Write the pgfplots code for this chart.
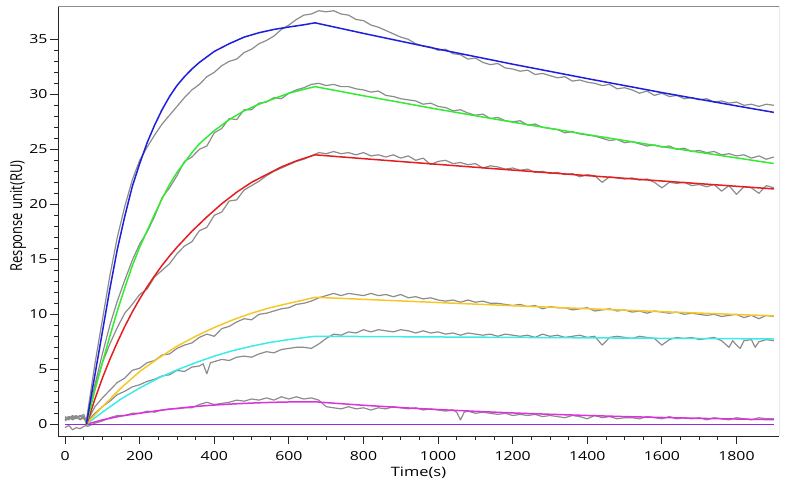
\documentclass[border=0pt]{standalone}
\usepackage{fontspec}
\setmainfont{Open Sans}[FakeStretch=1.27]
\newfontfamily\ylabfont{Open Sans}
\usepackage{graphicx}
\usepackage{pgfplots}
\pgfplotsset{compat=1.18}
\definecolor{dgray}{RGB}{140,140,140}
\definecolor{fblue}{RGB}{30,30,220}
\definecolor{fgreen}{RGB}{50,235,50}
\definecolor{fred}{RGB}{228,30,30}
\definecolor{fyellow}{RGB}{245,200,40}
\definecolor{fcyan}{RGB}{60,235,235}
\definecolor{fmagenta}{RGB}{220,50,220}
\definecolor{fpurple}{RGB}{150,40,230}
\begin{document}
\begin{tikzpicture}
\useasboundingbox (0,0) rectangle (789bp,488bp);
\begin{axis}[
  at={(58bp,52bp)}, anchor=south west,
  scale only axis, width=721bp, height=430bp,
  xmin=-19, xmax=1914, ymin=-1.064, ymax=38.03,
  axis x line*=bottom, axis y line*=left,
  axis line style={black!85, line width=0.9bp},
  tick align=outside,
  major tick length=8bp, minor tick length=4bp,
  every tick/.style={black!85, line width=0.8bp},
  xtick={0,200,...,1800}, ytick={0,5,...,35},
  minor x tick num=3, minor y tick num=4,
  /pgf/number format/assume math mode=true,
  /pgf/number format/set thousands separator={},
  ticklabel style={font=\fontsize{12.5}{14}\selectfont},
  xticklabel style={yshift=-4bp},
  yticklabel style={xshift=1bp},
  xlabel={Time(s)},
  xlabel style={at={(axis description cs:0.5,0)}, anchor=center, yshift=-37bp, font=\fontsize{13}{15}\selectfont},
  ylabel={\scalebox{1}[1.27]{\ylabfont\fontsize{13}{15}\selectfont Response unit(RU)}},
  ylabel style={at={(axis description cs:-0.0555,0.5116)}, anchor=center},
  line join=round,
]
% ---------- measured sensorgrams (gray) ----------
\addplot[dgray, line width=1.2bp] coordinates {
(0,0.5)(10,0.7)(20,0.4)(30,0.6)(40,0.8)(50,0.5)(57,0.3)(60,1.0)(80,5.5)(100,9.5)(120,13.5)(140,17.0)(160,19.8)(180,22.2)(200,24.0)(220,25.2)(240,26.3)(260,27.3)(280,28.1)(300,28.9)(320,29.7)(340,30.4)(360,30.9)(380,31.6)(400,32.0)(420,32.6)(440,33.0)(460,33.2)(480,33.8)(500,34.1)(520,34.6)(540,34.9)(560,35.3)(580,35.9)(600,36.3)(620,36.8)(640,37.2)(660,37.3)(680,37.6)(700,37.5)(720,37.6)(740,37.3)(760,37.2)(780,36.8)(800,36.7)(820,36.3)(840,36.1)(860,35.8)(880,35.5)(900,35.2)(920,35.0)(940,34.6)(960,34.4)(980,34.3)(1000,34.0)(1020,34.1)(1040,33.7)(1060,33.6)(1080,33.2)(1100,33.3)(1120,32.9)(1140,32.7)(1160,32.8)(1180,32.4)(1200,32.3)(1220,32.1)(1240,32.2)(1260,31.8)(1280,31.9)(1300,31.7)(1320,31.5)(1340,31.6)(1360,31.2)(1380,31.3)(1400,31.1)(1420,31.0)(1440,30.8)(1460,30.9)(1480,30.5)(1500,30.6)(1520,30.4)(1540,30.1)(1560,30.3)(1580,29.9)(1600,30.1)(1620,29.8)(1640,29.9)(1660,29.6)(1680,29.7)(1700,29.5)(1720,29.6)(1740,29.3)(1760,29.4)(1780,29.2)(1800,29.3)(1820,29.0)(1840,29.1)(1860,28.9)(1880,29.1)(1900,29.0)
};
\addplot[dgray, line width=1.2bp] coordinates {
(0,0.3)(10,0.6)(20,0.5)(30,0.7)(40,0.4)(50,0.6)(57,0.2)(60,0.6)(80,3.6)(100,6.4)(120,9.0)(140,11.2)(160,13.1)(180,14.9)(200,16.4)(220,17.5)(240,18.9)(260,20.6)(280,21.5)(300,22.6)(320,23.9)(340,24.3)(360,25.0)(380,25.3)(400,26.5)(420,26.9)(440,27.8)(460,27.7)(480,28.6)(500,28.6)(520,29.2)(540,29.3)(560,29.7)(580,29.6)(600,30.1)(620,30.4)(640,30.6)(660,30.9)(680,31.0)(700,30.8)(720,30.9)(740,30.7)(760,30.7)(780,30.5)(800,30.4)(820,30.2)(840,30.3)(860,29.9)(880,29.8)(900,29.6)(920,29.5)(940,29.4)(960,29.1)(980,29.2)(1000,28.9)(1020,28.8)(1040,28.5)(1060,28.6)(1080,28.3)(1100,28.1)(1120,28.2)(1140,27.8)(1160,27.9)(1180,27.6)(1200,27.5)(1220,27.6)(1240,27.2)(1260,27.3)(1280,27.0)(1300,26.9)(1320,26.8)(1340,26.5)(1360,26.6)(1380,26.4)(1400,26.3)(1420,26.2)(1440,26.0)(1460,25.8)(1480,25.9)(1500,25.6)(1520,25.7)(1540,25.5)(1560,25.3)(1580,25.4)(1600,25.2)(1620,25.3)(1640,25.0)(1660,25.1)(1680,24.8)(1700,24.9)(1720,24.7)(1740,24.8)(1760,24.5)(1780,24.6)(1800,24.4)(1820,24.5)(1840,24.2)(1860,24.4)(1880,24.1)(1900,24.3)
};
\addplot[dgray, line width=1.2bp] coordinates {
(0,0.7)(10,0.5)(20,0.8)(30,0.6)(40,0.7)(50,0.9)(57,0.3)(60,0.5)(80,3.4)(100,5.6)(120,7.3)(140,8.8)(160,10.1)(180,10.9)(200,11.8)(220,12.3)(240,13.4)(260,14.0)(280,14.6)(300,15.5)(320,16.2)(340,16.6)(360,17.6)(380,17.9)(400,19.0)(420,19.3)(440,20.3)(460,20.4)(480,21.3)(500,21.7)(520,22.1)(540,22.6)(560,23.0)(580,23.3)(600,23.6)(620,23.9)(640,24.1)(660,24.4)(680,24.7)(700,24.6)(720,24.8)(740,24.6)(760,24.7)(780,24.5)(800,24.7)(820,24.4)(840,24.5)(860,24.3)(880,24.5)(900,24.2)(920,24.4)(940,24.0)(960,24.2)(980,23.6)(1000,23.9)(1020,24.0)(1040,23.7)(1060,23.8)(1080,23.6)(1100,23.7)(1120,23.3)(1140,23.5)(1160,23.4)(1180,23.2)(1200,23.3)(1220,23.1)(1240,23.2)(1260,22.9)(1280,23.0)(1300,22.8)(1320,22.9)(1340,22.7)(1360,22.8)(1380,22.5)(1400,22.7)(1420,22.6)(1440,22.0)(1460,22.5)(1480,22.4)(1500,22.3)(1520,22.4)(1540,22.2)(1560,22.3)(1580,22.0)(1600,21.5)(1620,22.0)(1640,21.9)(1660,22.0)(1680,21.7)(1700,21.8)(1720,21.6)(1740,21.8)(1760,21.2)(1780,21.7)(1800,20.9)(1820,21.6)(1840,21.5)(1860,21.0)(1880,21.7)(1900,21.5)
};
\addplot[dgray, line width=1.2bp] coordinates {
(0,0.4)(10,0.7)(20,0.6)(30,0.8)(40,0.5)(50,0.7)(57,0.1)(60,0.3)(80,1.6)(100,2.4)(120,3.1)(140,3.8)(160,4.2)(180,4.9)(200,5.1)(220,5.6)(240,5.8)(260,6.3)(280,6.4)(300,6.9)(320,7.2)(340,7.4)(360,7.9)(380,8.2)(400,8.0)(420,8.7)(440,8.9)(460,9.3)(480,9.6)(500,9.5)(520,10.0)(540,10.1)(560,10.3)(580,10.5)(600,10.6)(620,10.9)(640,11.0)(660,11.2)(680,11.5)(700,11.7)(720,11.9)(740,11.7)(760,11.9)(780,11.8)(800,11.7)(820,11.9)(840,11.7)(860,11.8)(880,11.6)(900,11.8)(920,11.5)(940,11.6)(960,11.4)(980,11.5)(1000,11.3)(1020,11.2)(1040,11.3)(1060,11.1)(1080,11.3)(1100,11.1)(1120,11.2)(1140,11.0)(1160,11.0)(1180,10.9)(1200,10.8)(1220,10.9)(1240,10.7)(1260,10.8)(1280,10.5)(1300,10.7)(1320,10.6)(1340,10.6)(1360,10.4)(1380,10.5)(1400,10.6)(1420,10.3)(1440,10.4)(1460,10.5)(1480,10.3)(1500,10.4)(1520,10.2)(1540,10.3)(1560,10.1)(1580,10.3)(1600,10.2)(1620,10.1)(1640,10.2)(1660,10.0)(1680,10.1)(1700,10.0)(1720,9.9)(1740,10.0)(1760,9.8)(1780,9.9)(1800,10.0)(1820,9.7)(1840,9.9)(1860,9.6)(1880,9.9)(1900,9.8)
};
\addplot[dgray, line width=1.2bp] coordinates {
(0,0.6)(10,0.4)(20,0.7)(30,0.5)(40,0.8)(50,0.6)(57,0.2)(60,0.3)(80,1.0)(100,1.6)(120,2.1)(140,2.7)(160,3.0)(180,3.4)(200,3.6)(220,3.9)(240,4.1)(260,4.4)(280,4.5)(300,4.9)(320,4.8)(340,5.2)(360,5.3)(370,5.5)(380,4.6)(390,5.6)(400,5.7)(420,5.9)(440,5.8)(460,6.1)(480,6.2)(500,6.1)(520,6.4)(540,6.6)(560,6.5)(580,6.8)(600,6.9)(620,7.0)(640,7.0)(660,6.9)(680,7.3)(700,7.8)(720,8.2)(740,8.1)(760,8.4)(780,8.3)(800,8.6)(820,8.4)(840,8.6)(860,8.5)(880,8.4)(900,8.6)(920,8.5)(940,8.3)(960,8.5)(980,8.3)(1000,8.4)(1020,8.2)(1040,8.3)(1060,8.1)(1080,8.3)(1100,8.2)(1120,8.1)(1140,8.2)(1160,8.0)(1180,8.2)(1200,8.1)(1220,8.0)(1240,8.1)(1260,7.9)(1280,8.2)(1300,8.0)(1320,8.1)(1340,7.9)(1360,8.0)(1380,8.1)(1400,7.9)(1420,8.0)(1440,7.2)(1460,7.9)(1480,8.0)(1500,7.9)(1520,7.8)(1540,8.0)(1560,7.9)(1580,7.8)(1600,7.2)(1620,7.7)(1640,7.9)(1660,7.8)(1680,7.9)(1700,7.7)(1720,7.8)(1740,7.9)(1760,7.6)(1780,7.0)(1790,7.6)(1800,7.2)(1810,6.9)(1820,7.6)(1840,7.7)(1850,7.0)(1860,7.5)(1880,7.7)(1900,7.6)
};
\addplot[dgray, line width=1.2bp] coordinates {
(0,-0.3)(10,-0.1)(20,-0.5)(30,-0.3)(40,-0.4)(50,-0.2)(57,-0.1)(60,-0.2)(80,0.1)(100,0.3)(120,0.6)(140,0.8)(160,0.8)(180,1.0)(200,1.0)(220,1.2)(240,1.1)(260,1.3)(280,1.4)(300,1.4)(320,1.5)(340,1.5)(360,1.8)(380,2.0)(400,1.8)(420,1.9)(440,2.0)(460,2.2)(480,2.1)(500,2.3)(520,2.2)(540,2.4)(560,2.2)(580,2.5)(600,2.3)(620,2.5)(640,2.3)(660,2.4)(680,2.2)(700,1.6)(720,1.5)(740,1.4)(760,1.6)(780,1.4)(800,1.5)(820,1.3)(840,1.5)(860,1.4)(880,1.6)(900,1.5)(920,1.4)(940,1.5)(960,1.3)(980,1.4)(1000,1.3)(1020,1.2)(1040,1.3)(1050,1.1)(1060,0.4)(1070,1.1)(1080,1.2)(1100,1.0)(1120,1.1)(1140,1.0)(1160,0.9)(1180,1.0)(1200,0.8)(1220,0.9)(1240,0.8)(1260,0.9)(1280,0.7)(1300,0.8)(1320,0.7)(1340,0.6)(1360,0.8)(1380,0.7)(1400,0.5)(1420,0.8)(1440,0.6)(1460,0.7)(1480,0.5)(1500,0.6)(1520,0.6)(1540,0.5)(1560,0.7)(1580,0.6)(1600,0.5)(1620,0.7)(1640,0.5)(1660,0.6)(1680,0.5)(1700,0.6)(1720,0.4)(1740,0.6)(1760,0.5)(1780,0.4)(1800,0.6)(1820,0.5)(1840,0.4)(1860,0.6)(1880,0.5)(1900,0.5)
};
% ---------- fitted curves ----------
\addplot[fpurple, line width=1.5bp] coordinates {(0,0)(1900,0)};
\addplot[fmagenta, line width=1.5bp] coordinates {
(57,0)(100,0.4)(150,0.75)(200,1.0)(250,1.25)(300,1.45)(350,1.62)(400,1.75)(450,1.85)(500,1.93)(550,1.99)(600,2.03)(670,2.05)(700,1.97)(800,1.73)(900,1.52)(1000,1.34)(1100,1.18)(1200,1.03)(1300,0.91)(1400,0.80)(1500,0.70)(1600,0.62)(1700,0.54)(1800,0.48)(1900,0.42)
};
\addplot[fcyan, line width=1.5bp] coordinates {
(57,0)(100,1.1)(150,2.3)(200,3.3)(250,4.2)(300,4.95)(350,5.6)(400,6.2)(450,6.7)(500,7.1)(550,7.45)(600,7.7)(640,7.88)(670,8.0)(800,7.98)(1000,7.94)(1200,7.90)(1400,7.86)(1600,7.82)(1800,7.78)(1900,7.76)
};
\addplot[fyellow, line width=1.5bp] coordinates {
(57,0)(100,1.6)(150,3.3)(200,4.8)(250,6.0)(300,7.1)(350,8.0)(400,8.8)(450,9.5)(500,10.1)(550,10.6)(600,11.0)(640,11.3)(670,11.55)(800,11.36)(1000,11.07)(1200,10.78)(1400,10.51)(1600,10.24)(1800,9.98)(1900,9.86)
};
\addplot[fred, line width=1.5bp] coordinates {
(58,0)(80,2.3)(100,4.2)(120,5.9)(140,7.45)(160,8.9)(180,10.2)(200,11.4)(220,12.5)(240,13.5)(260,14.45)(280,15.3)(300,16.1)(340,17.55)(380,18.85)(420,20.05)(460,21.1)(500,22.0)(540,22.7)(580,23.4)(620,23.95)(670,24.5)(800,24.15)(1000,23.63)(1200,23.11)(1400,22.61)(1600,22.12)(1800,21.64)(1900,21.40)
};
\addplot[fgreen, line width=1.5bp] coordinates {
(57,0)(80,3.1)(100,5.6)(120,8.0)(140,10.3)(160,12.4)(180,14.4)(200,16.1)(220,17.6)(240,19.1)(260,20.5)(280,21.8)(300,22.9)(320,23.8)(340,24.7)(360,25.5)(380,26.1)(400,26.7)(440,27.7)(480,28.5)(520,29.1)(560,29.6)(600,30.1)(640,30.45)(670,30.7)(800,29.87)(1000,28.64)(1200,27.47)(1400,26.34)(1600,25.25)(1800,24.22)(1900,23.71)
};
\addplot[fblue, line width=1.5bp] coordinates {
(57,0)(80,4.5)(100,8.4)(120,12.3)(140,15.9)(160,18.9)(180,21.6)(200,23.7)(220,25.6)(240,27.2)(260,28.6)(280,29.8)(300,30.8)(320,31.6)(340,32.3)(360,32.9)(380,33.4)(400,33.9)(440,34.6)(480,35.2)(520,35.6)(560,35.9)(600,36.12)(640,36.32)(670,36.5)(800,35.54)(1000,34.11)(1200,32.74)(1400,31.43)(1600,30.16)(1800,28.95)(1900,28.36)
};
\draw[black!45, line width=0.9bp] (rel axis cs:0,1) -- (rel axis cs:1,1);
\draw[black!70, line width=0.9bp] (rel axis cs:1,1) -- (rel axis cs:1,0);
\end{axis}
\end{tikzpicture}
\end{document}
